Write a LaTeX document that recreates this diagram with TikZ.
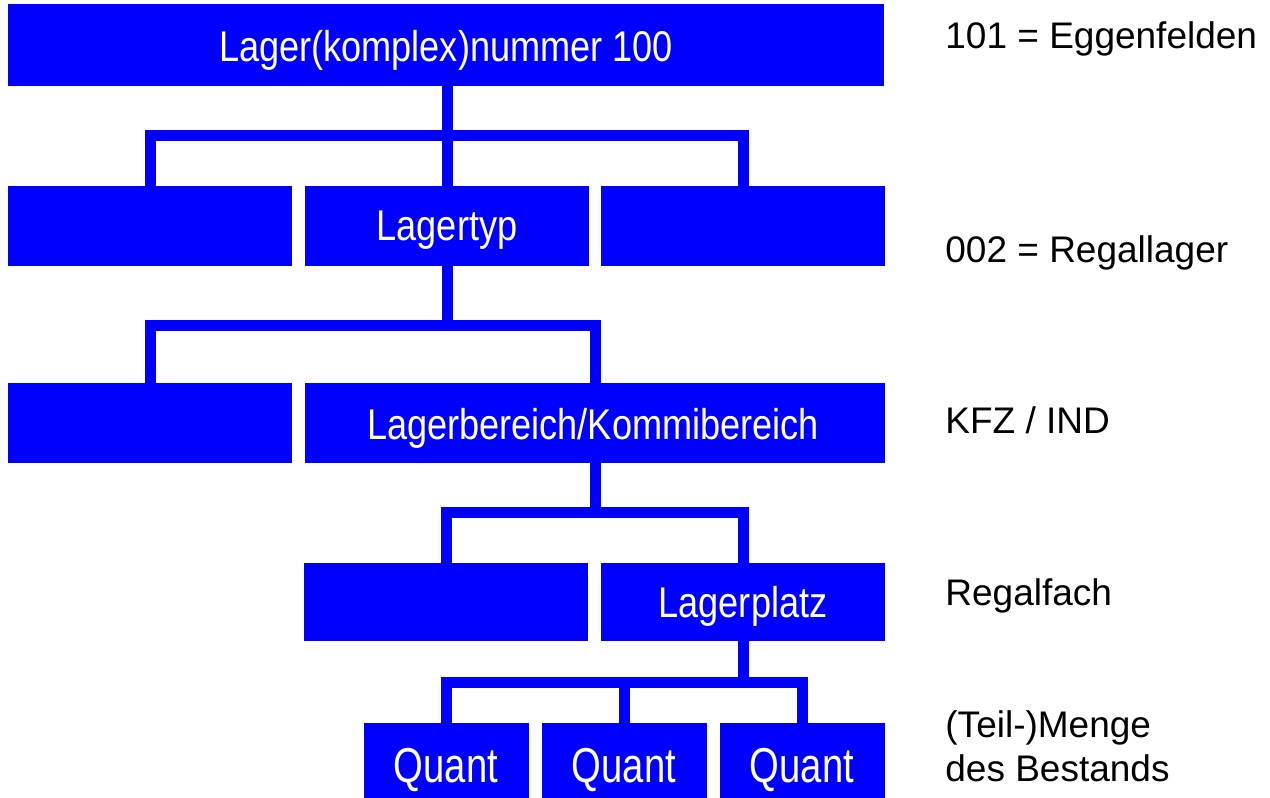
\documentclass[tikz,border=0pt]{standalone}
\usepackage{fontspec}
\setmainfont{Liberation Sans}
\usetikzlibrary{fit}
\definecolor{boxblue}{HTML}{0000FF}
\tikzset{
  boxnode/.style={fill=boxblue, draw=none, inner sep=0pt, outer sep=0pt},
  boxtext/.style={text=white, inner sep=0pt, anchor=base},
  sidetext/.style={text=black, inner sep=0pt, anchor=base west, font=\fontsize{18.5}{20.5}\selectfont},
  conn/.style={draw=boxblue, line width=5.5pt, line join=miter},
}
\newcommand{\bt}[1]{\scalebox{0.84}[1]{\fontsize{21.5}{24}\selectfont #1}}
\newcommand{\qt}[1]{\scalebox{0.78}[1]{\fontsize{24.5}{27}\selectfont #1}}
\begin{document}
\begin{tikzpicture}[x=0.5pt, y=-0.5pt]
\useasboundingbox (0,0) rectangle (1270,798);
% boxes
\node[boxnode, fit={(8,4) (884,86)}] (top) {};
\node[boxnode, fit={(8,186) (292,266)}] (r2a) {};
\node[boxnode, fit={(305,186) (589,266)}] (r2b) {};
\node[boxnode, fit={(601,186) (885,266)}] (r2c) {};
\node[boxnode, fit={(8,383) (292,463)}] (r3a) {};
\node[boxnode, fit={(305,383) (885,463)}] (r3b) {};
\node[boxnode, fit={(304,563) (588,641)}] (r4a) {};
\node[boxnode, fit={(601,563) (885,641)}] (r4b) {};
\node[boxnode, fit={(364,723) (529,798)}] (q1) {};
\node[boxnode, fit={(542,723) (707,798)}] (q2) {};
\node[boxnode, fit={(720,723) (885,798)}] (q3) {};
% box texts
\node[boxtext] (ttop) at (446,61) {\bt{Lager(komplex)nummer 100}};
\node[boxtext] (tr2b) at (447,240) {\bt{Lagertyp}};
\node[boxtext] (tr3b) at (593,439) {\bt{Lagerbereich/Kommibereich}};
\node[boxtext] (tr4b) at (743,617) {\bt{Lagerplatz}};
\node[boxtext] (tq1) at (446,782) {\qt{Quant}};
\node[boxtext] (tq2) at (624,782) {\qt{Quant}};
\node[boxtext] (tq3) at (802,782) {\qt{Quant}};
% connector junctions
\coordinate (c1) at (447,135);
\coordinate (c2) at (447,325);
\coordinate (c3) at (595,512);
\coordinate (c4) at (743,682);
% connectors
\draw[conn] (top.south -| r2b.north) -- (r2b.north);
\draw[conn] (r2a.north) |- (c1) -| (r2c.north);
\draw[conn] (r2b.south) -- (c2);
\draw[conn] (r3a.north -| r2a.north) |- (c2) -| (r3b.north);
\draw[conn] (r3b.south) -- (c3);
\draw[conn] (r4a.north) |- (c3) -| (r4b.north);
\draw[conn] (r4b.south) -- (c4);
\draw[conn] (q1.north) |- (c4) -| (q3.north);
\draw[conn] (q2.north) -- (q2.north |- c4);
% side texts
\node[sidetext] (s1) at (945,48) {101 = Eggenfelden};
\node[sidetext] (s2) at (945,262) {002 = Regallager};
\node[sidetext] (s3) at (945,433) {KFZ / IND};
\node[sidetext] (s4) at (945,605) {Regalfach};
\node[sidetext] (s5) at (945,737) {(Teil-)Menge};
\node[sidetext] (s6) at (945,781) {des Bestands};
\end{tikzpicture}
\end{document}
